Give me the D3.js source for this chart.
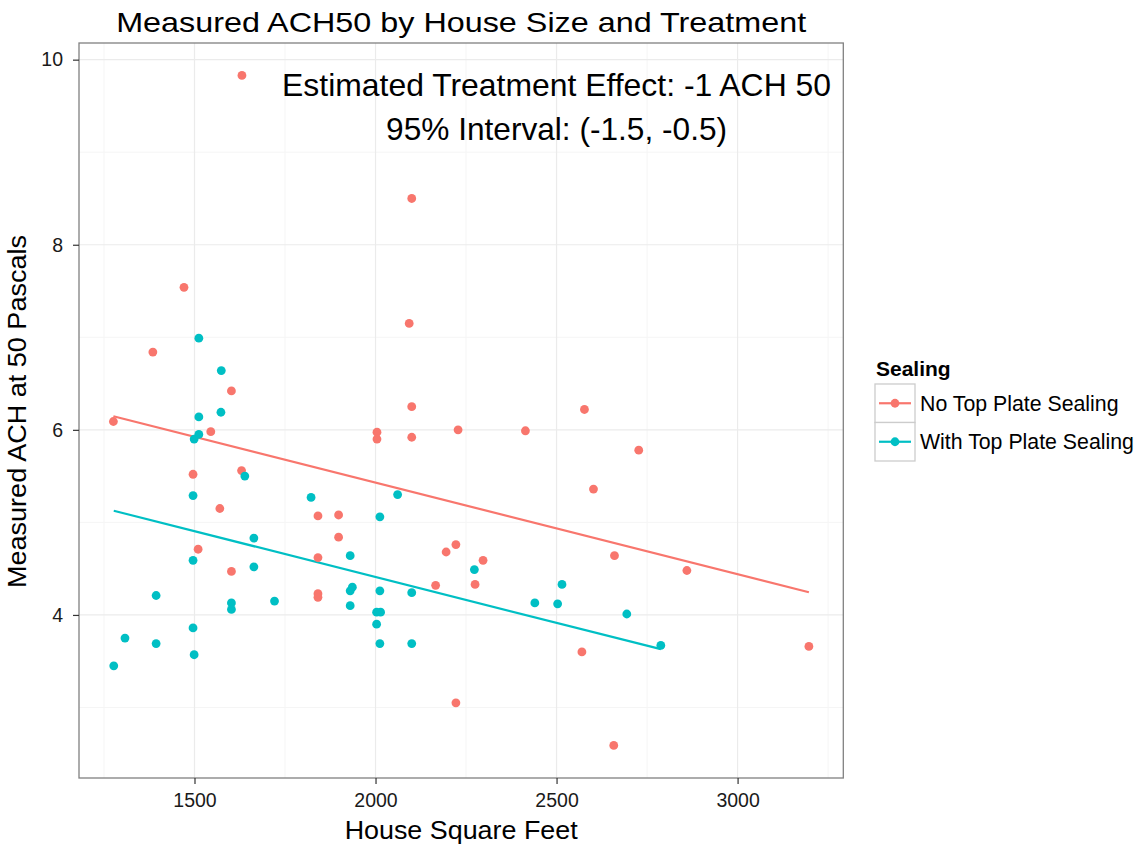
<!DOCTYPE html>
<html>
<head>
<meta charset="utf-8">
<script src="https://cdn.jsdelivr.net/npm/d3@7"></script>
<style>
  html, body { margin: 0; padding: 0; background: #fff; }
  svg { display: block; font-family: "Liberation Sans", Arial, Helvetica, sans-serif; }
</style>
</head>
<body>
<svg id="chart" width="1143" height="846"></svg>
<script>
// ---------------- data ----------------
const seriesNames = ["No Top Plate Sealing", "With Top Plate Sealing"];
const seriesColors = ["#F8766D", "#00BFC4"];

const noSealSqft = [1631, 2100, 1471, 2093, 1385, 1602, 2100, 1276, 1545, 1496, 1630, 1570, 1841, 1898, 1898, 1510, 1841, 2195, 2222, 1602, 2275, 2166, 1841, 1841, 2222, 2577, 2004, 2004, 2100, 2228, 2414, 2727, 2602, 2297, 2660, 2860, 2570, 3197, 2658];
const noSealAch  = [9.83, 8.50, 7.54, 7.15, 6.84, 6.42, 6.25, 6.09, 5.98, 5.52, 5.56, 5.15, 5.07, 5.08, 4.84, 4.71, 4.62, 4.68, 4.76, 4.47, 4.33, 4.32, 4.23, 4.19, 3.05, 6.22, 5.975, 5.90, 5.92, 6.00, 5.99, 5.78, 5.36, 4.59, 4.64, 4.48, 3.60, 3.66, 2.59];

const withSealSqft = [1512, 1574, 1573, 1512, 1512, 1499, 1639, 1496, 1822, 2012, 2061, 1664, 1930, 1496, 1664, 2273, 1394, 1602, 1602, 1721, 1930, 1936, 1930, 2012, 2100, 2003, 2014, 2003, 2012, 2100, 1496, 1308, 1394, 1499, 1277, 2515, 2440, 2503, 2694, 2788];
const withSealAch  = [6.99, 6.64, 6.19, 6.14, 5.95, 5.90, 5.50, 5.29, 5.27, 5.06, 5.30, 4.83, 4.64, 4.59, 4.52, 4.49, 4.21, 4.13, 4.06, 4.15, 4.26, 4.30, 4.10, 4.26, 4.24, 4.03, 4.03, 3.90, 3.69, 3.69, 3.86, 3.75, 3.69, 3.57, 3.45, 4.33, 4.13, 4.12, 4.01, 3.67];

// fitted parallel regression lines (common slope, one intercept per series)
const fitIntercepts = [7.41, 6.39];
const fitSlope = -0.00099;

const xTicks = [1500, 2000, 2500, 3000];
const xMinorTicks = [1250, 1750, 2250, 2750, 3250];
const yTicks = [4, 6, 8, 10];
const yMinorTicks = [3, 5, 7, 9];

const titleText = "Measured ACH50 by House Size and Treatment";
const xLabel = "House Square Feet";
const yLabel = "Measured ACH at 50 Pascals";
const legendTitle = "Sealing";
const annotation1 = "Estimated Treatment Effect: -1 ACH 50";
const annotation2 = "95% Interval: (-1.5, -0.5)";
const annotationX = 2500;

// ---------------- layout ----------------
const panel = { left: 79, right: 843.3, top: 43, bottom: 778 };
const svg = d3.select("#chart");

const x = d3.scaleLinear().domain([1181, 3292]).range([panel.left, panel.right]);
const y = d3.scaleLinear().domain([2.238, 10.18]).range([panel.bottom, panel.top]);

const groups = [
  { name: seriesNames[0], color: seriesColors[0], xs: noSealSqft, ys: noSealAch, b: fitIntercepts[0] },
  { name: seriesNames[1], color: seriesColors[1], xs: withSealSqft, ys: withSealAch, b: fitIntercepts[1] }
];

// panel background
svg.append("rect")
  .attr("x", panel.left).attr("y", panel.top)
  .attr("width", panel.right - panel.left).attr("height", panel.bottom - panel.top)
  .attr("fill", "#fff");

// grid
const grid = svg.append("g");
grid.selectAll("line.xmin").data(xMinorTicks.filter(d => x(d) < panel.right)).join("line")
  .attr("x1", d => x(d)).attr("x2", d => x(d)).attr("y1", panel.top).attr("y2", panel.bottom)
  .attr("stroke", "#f5f5f5").attr("stroke-width", 1);
grid.selectAll("line.ymin").data(yMinorTicks).join("line")
  .attr("y1", d => y(d)).attr("y2", d => y(d)).attr("x1", panel.left).attr("x2", panel.right)
  .attr("stroke", "#f5f5f5").attr("stroke-width", 1);
grid.selectAll("line.xmaj").data(xTicks).join("line")
  .attr("x1", d => x(d)).attr("x2", d => x(d)).attr("y1", panel.top).attr("y2", panel.bottom)
  .attr("stroke", "#ebebeb").attr("stroke-width", 1.2);
grid.selectAll("line.ymaj").data(yTicks).join("line")
  .attr("y1", d => y(d)).attr("y2", d => y(d)).attr("x1", panel.left).attr("x2", panel.right)
  .attr("stroke", "#ebebeb").attr("stroke-width", 1.2);

// annotation text
svg.append("text").attr("x", x(annotationX)).attr("y", 95.5)
  .attr("text-anchor", "middle").attr("font-size", 31.5).attr("fill", "#000")
  .attr("textLength", 549).attr("lengthAdjust", "spacingAndGlyphs")
  .text(annotation1);
svg.append("text").attr("x", x(annotationX)).attr("y", 140)
  .attr("text-anchor", "middle").attr("font-size", 31.5).attr("fill", "#000")
  .attr("textLength", 341).attr("lengthAdjust", "spacingAndGlyphs")
  .text(annotation2);

// regression lines
const lineGen = d3.line().x(d => x(d[0])).y(d => y(d[1]));
groups.forEach(g => {
  const [x0, x1] = d3.extent(g.xs);
  svg.append("path")
    .datum([[x0, g.b + fitSlope * x0], [x1, g.b + fitSlope * x1]])
    .attr("d", lineGen).attr("fill", "none")
    .attr("stroke", g.color).attr("stroke-width", 2.2);
});

// points
groups.forEach(g => {
  svg.append("g").selectAll("circle")
    .data(g.xs.map((v, i) => [v, g.ys[i]]))
    .join("circle")
    .attr("cx", d => x(d[0])).attr("cy", d => y(d[1]))
    .attr("r", 4.4).attr("fill", g.color);
});

// panel border
svg.append("rect")
  .attr("x", panel.left).attr("y", panel.top)
  .attr("width", panel.right - panel.left).attr("height", panel.bottom - panel.top)
  .attr("fill", "none").attr("stroke", "#808080").attr("stroke-width", 1.3);

// axes
const xAxis = svg.append("g").attr("transform", `translate(0,${panel.bottom})`)
  .call(d3.axisBottom(x).tickValues(xTicks).tickSize(6).tickPadding(9).tickFormat(d3.format("d")));
xAxis.select(".domain").remove();
xAxis.selectAll(".tick line").attr("stroke", "#333").attr("stroke-width", 1.2);
xAxis.selectAll(".tick text").attr("font-size", 19.5).attr("fill", "#1a1a1a")
  .attr("font-family", "'Liberation Sans', Arial, sans-serif");

const yAxis = svg.append("g").attr("transform", `translate(${panel.left},0)`)
  .call(d3.axisLeft(y).tickValues(yTicks).tickSize(6).tickPadding(10).tickFormat(d3.format("d")));
yAxis.select(".domain").remove();
yAxis.selectAll(".tick line").attr("stroke", "#333").attr("stroke-width", 1.2);
yAxis.selectAll(".tick text").attr("font-size", 19.5).attr("fill", "#1a1a1a")
  .attr("font-family", "'Liberation Sans', Arial, sans-serif");

// title
svg.append("text").attr("x", (panel.left + panel.right) / 2).attr("y", 32)
  .attr("text-anchor", "middle").attr("font-size", 28)
  .attr("textLength", 690).attr("lengthAdjust", "spacingAndGlyphs")
  .text(titleText);

// axis labels
svg.append("text").attr("x", (panel.left + panel.right) / 2).attr("y", 839)
  .attr("text-anchor", "middle").attr("font-size", 25)
  .attr("textLength", 233).attr("lengthAdjust", "spacingAndGlyphs")
  .text(xLabel);
svg.append("text")
  .attr("transform", `translate(26,${(235 + 588) / 2}) rotate(-90)`)
  .attr("text-anchor", "middle").attr("font-size", 25)
  .attr("textLength", 353).attr("lengthAdjust", "spacingAndGlyphs")
  .text(yLabel);

// legend
const legend = svg.append("g").attr("transform", "translate(875,384)");
legend.append("text").attr("x", 1).attr("y", -8).attr("font-size", 21).attr("font-weight", "bold")
  .text(legendTitle);
const keyH = 38.5, keyW = 40;
groups.forEach((g, i) => {
  const k = legend.append("g").attr("transform", `translate(0,${i * keyH})`);
  k.append("rect").attr("x", 0).attr("y", 0).attr("width", keyW).attr("height", keyH)
    .attr("fill", "#fff").attr("stroke", "#cccccc").attr("stroke-width", 1.3);
  k.append("line").attr("x1", 4).attr("x2", keyW - 4).attr("y1", keyH / 2).attr("y2", keyH / 2)
    .attr("stroke", g.color).attr("stroke-width", 2.2);
  k.append("circle").attr("cx", keyW / 2).attr("cy", keyH / 2).attr("r", 4.4).attr("fill", g.color);
  k.append("text").attr("x", keyW + 5).attr("y", keyH / 2 + 7.5).attr("font-size", 21.3)
    .text(g.name);
});
</script>
</body>
</html>
